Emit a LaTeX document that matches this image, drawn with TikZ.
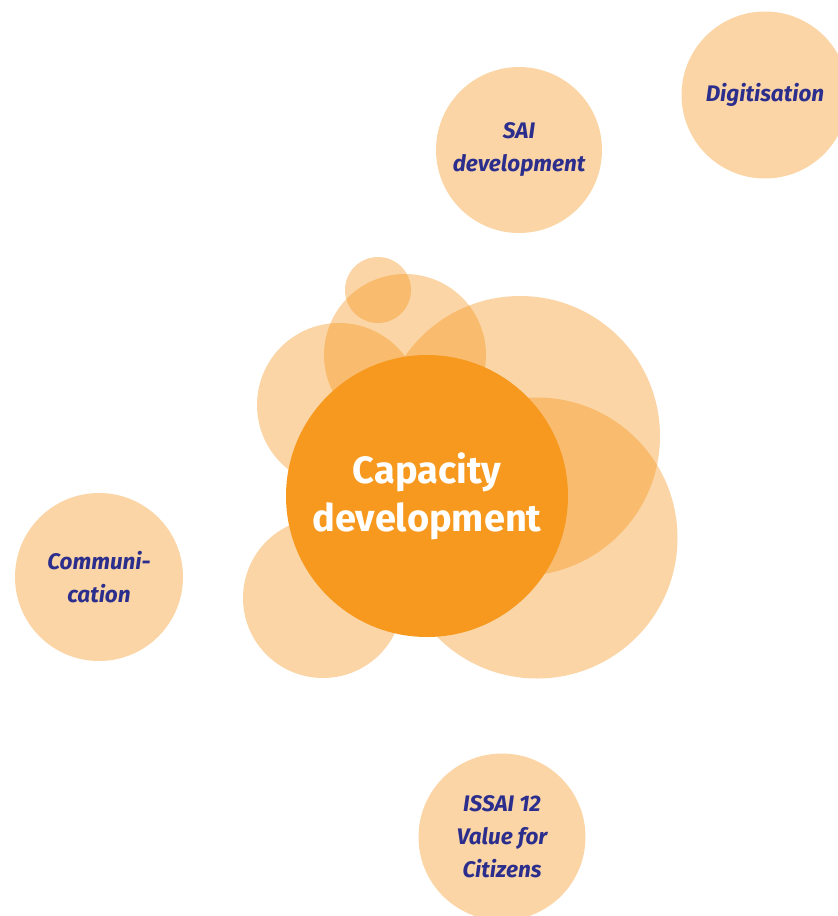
\documentclass[tikz,border=0pt]{standalone}
\usepackage{fontspec}
\setmainfont{Fira Sans}
\usepackage{xcolor}
\usepackage{tikz}
\usetikzlibrary{positioning}
\definecolor{peach}{RGB}{245,150,30}
\definecolor{capor}{RGB}{247,153,31}
\definecolor{navy}{RGB}{43,46,140}
\tikzset{bubble/.style={circle,fill=peach,fill opacity=0.4,draw=none,inner sep=0pt}}
\tikzset{topic/.style={circle,fill=peach!40,draw=none,inner sep=0pt,align=center,text=navy,font=\fontsize{22.5}{33}\selectfont\bfseries\itshape}}

\begin{document}
\begin{tikzpicture}[x=1pt,y=-1pt]
  \useasboundingbox (0,0) rectangle (838,916);
  \clip (0,0) rectangle (838,916);
  % background bubbles
  \node[bubble,minimum size=66pt] (b1) at (378,290) {};
  \node[bubble,minimum size=162pt] (b2) at (405,355) {};
  \node[bubble,minimum size=164pt] (b3) at (339,405) {};
  \node[bubble,minimum size=280pt] (b4) at (520,436) {};
  \node[bubble,minimum size=281pt] (b5) at (537,538) {};
  \node[bubble,minimum size=160pt] (b6) at (323,598) {};
  % centre
  \node[circle,fill=capor,inner sep=0pt,minimum size=282pt,align=center,text=white,
        font=\fontsize{38}{48}\selectfont\bfseries] (cap) at (427,496) {Capacity\\development};
  % topics
  \node[topic,minimum size=167pt] (digi) at (765,95) {Digitisation};
  \node[topic,minimum size=166pt] (sai) at (519,150) {SAI\\development};
  \node[topic,minimum size=168pt] (comm) at (99,577) {Communi-\\cation};
  \node[topic,minimum size=167pt] (issai) at (502,837) {ISSAI 12\\Value for\\Citizens};
\end{tikzpicture}
\end{document}
